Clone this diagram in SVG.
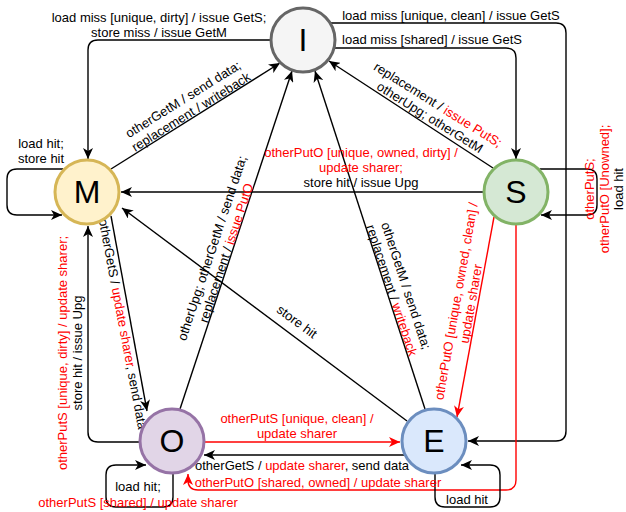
<svg xmlns="http://www.w3.org/2000/svg" width="626" height="512" viewBox="0 0 626 512">
<defs>
<style>
text{font-family:"Liberation Sans",Arial,Helvetica,sans-serif;font-size:13px;fill:#000;text-anchor:middle}
.r{fill:#f00}
.big{font-size:32px}
.e{fill:none;stroke:#000;stroke-width:1.4;marker-end:url(#a)}
.er{fill:none;stroke:#f00;stroke-width:1.4;marker-end:url(#ar)}
circle{stroke-width:3}
</style>
<marker id="a" viewBox="0 0 11 10" refX="11" refY="5" markerWidth="11" markerHeight="10" markerUnits="userSpaceOnUse" orient="auto"><path d="M0,0 L11,5 L0,10 L3,5 Z" fill="#000"/></marker>
<marker id="ar" viewBox="0 0 11 10" refX="11" refY="5" markerWidth="11" markerHeight="10" markerUnits="userSpaceOnUse" orient="auto"><path d="M0,0 L11,5 L0,10 L3,5 Z" fill="#f00"/></marker>
</defs>
<rect width="626" height="512" fill="#fff"/>
<g id="connectors">
<path class="e" d="M270,40 L98,40 Q88,40 88,50 L88,159"/>
<path class="e" d="M335,48 L506,48 Q516,48 516,58 L516,159"/>
<path class="e" d="M331,23 L556,23 Q566,23 566,33 L566,431 Q566,441 556,441 L468,441"/>
<path class="e" d="M111,169 L280,63"/>
<path class="e" d="M180,409 L292,71"/>
<path class="e" d="M425,409 L315,71"/>
<path class="e" d="M493,168 L329,61"/>
<path class="e" d="M483,192 L121,192"/>
<path class="e" d="M540,169 L587,169 Q597,169 597,179 L597,205 Q597,215 587,215 L541,215"/>
<path class="e" d="M63,169 L17,169 Q7,169 7,179 L7,205 Q7,215 17,215 L62,215"/>
<path class="e" d="M111,216 L147,411"/>
<path class="e" d="M139,442 L98,442 Q88,442 88,432 L88,226"/>
<path class="e" d="M407,421 L122,208"/>
<path class="er" d="M205,442 L400,442"/>
<path class="e" d="M404,455 L204,455"/>
<path class="er" d="M516,225 L516,480 Q516,490 506,490 L198,490 Q188,490 188,480 L188,474"/>
<path class="er" d="M494,217 L457,417"/>
<path class="e" d="M435,474 L435,497 Q435,507 445,507 L490,507 Q500,507 500,497 L500,475 Q500,465 490,465 L461,465"/>
<path class="e" d="M173,474 L173,497 Q173,507 163,507 L116,507 Q106,507 106,497 L106,475 Q106,465 116,465 L146,465"/>
</g>
<g id="edge-labels">
<text x="159" y="17" dy=".35em">load miss [unique, dirty] / issue GetS;</text>
<text x="159" y="32" dy=".35em">store miss / issue GetM</text>
<text x="432" y="39" dy=".35em">load miss [shared] / issue GetS</text>
<text x="451" y="15" dy=".35em">load miss [unique, clean] / issue GetS</text>
<text class="r" x="361" y="152" dy=".35em">otherPutO [unique, owned, dirty] /</text>
<text class="r" x="361" y="167" dy=".35em">update sharer;</text>
<text x="361" y="182" dy=".35em">store hit / issue Upg</text>
<text class="r" x="297" y="418" dy=".35em">otherPutS [unique, clean] /</text>
<text class="r" x="297" y="433" dy=".35em">update sharer</text>
<text x="302" y="465" dy=".35em">otherGetS / <tspan class="r">update sharer</tspan>, send data</text>
<text class="r" x="318" y="482" dy=".35em">otherPutO [shared, owned] / update sharer</text>
<text x="41" y="143" dy=".35em">load hit;</text>
<text x="41" y="158" dy=".35em">store hit</text>
<text x="138" y="486" dy=".35em">load hit;</text>
<text class="r" x="138" y="502" dy=".35em">otherPutS [shared] / update sharer</text>
<text x="467" y="499" dy=".35em">load hit</text>
<g transform="translate(187,105.5) rotate(-32)">
<text y="-7.5" dy=".35em">otherGetM / send data;</text>
<text y="7.5" dy=".35em">replacement / writeback</text>
</g>
<g transform="translate(219,250.5) rotate(-71.6)">
<text y="-7.5" dy=".35em">otherUpg; otherGetM / send data;</text>
<text y="7.5" dy=".35em">replacement / <tspan class="r">issue PutO</tspan></text>
</g>
<g transform="translate(399,288) rotate(71.8)">
<text y="-7.5" dy=".35em">otherGetM / send data;</text>
<text y="7.5" dy=".35em">replacement / <tspan class="r">writeback</tspan></text>
</g>
<g transform="translate(434,111) rotate(32)">
<text y="-7.5" dy=".35em">replacement / <tspan class="r">issue PutS;</tspan></text>
<text y="7.5" dy=".35em">otherUpg; otherGetM</text>
</g>
<g transform="translate(123,324) rotate(79.3)">
<text dy=".35em">otherGetS / <tspan class="r">update sharer</tspan>, send data</text>
</g>
<g transform="translate(70,353) rotate(-90)">
<text class="r" y="-7.5" dy=".35em">otherPutS [unique, dirty] / update sharer;</text>
<text y="7.5" dy=".35em">store hit / issue Upg</text>
</g>
<g transform="translate(297,321.5) rotate(36.2)">
<text dy=".35em">store hit</text>
</g>
<g transform="translate(604,189) rotate(-90)">
<text class="r" y="-14.5" dy=".35em">otherPutS;</text>
<text class="r" y="0" dy=".35em">otherPutO [Unowned];</text>
<text y="14.5" dy=".35em">load hit</text>
</g>
<g transform="translate(463.5,302.5) rotate(-80)">
<text class="r" y="-7.5" dy=".35em">otherPutO [unique, owned, clean] /</text>
<text class="r" y="7.5" dy=".35em">update sharer</text>
</g>
</g>
<g id="node-I"><circle cx="303" cy="40" r="32" fill="#f5f5f5" stroke="#666666"/><text class="big" x="303" y="40" dy=".35em">I</text></g>
<g id="node-M"><circle cx="87" cy="192" r="32" fill="#fff2cc" stroke="#d6b656"/><text class="big" x="87" y="192" dy=".35em">M</text></g>
<g id="node-S"><circle cx="516" cy="192" r="32" fill="#d5e8d4" stroke="#82b366"/><text class="big" x="516" y="192" dy=".35em">S</text></g>
<g id="node-O"><circle cx="172" cy="441" r="32" fill="#e1d5e7" stroke="#9673a6"/><text class="big" x="172" y="441" dy=".35em">O</text></g>
<g id="node-E"><circle cx="434" cy="441" r="32" fill="#dae8fc" stroke="#6c8ebf"/><text class="big" x="434" y="441" dy=".35em">E</text></g>
</svg>
